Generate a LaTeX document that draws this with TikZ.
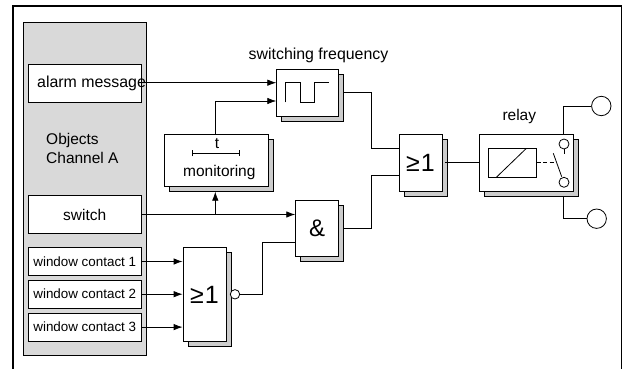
\documentclass[tikz,border=0pt]{standalone}
\usepackage{fontspec}
\setmainfont{Liberation Sans}
\usetikzlibrary{arrows.meta,shadows}

\begin{document}
\begin{tikzpicture}[x=1pt,y=-1pt]
\tikzstyle{panel}=[rectangle, draw, fill=black!15, line width=0.8pt, inner sep=0]
\tikzstyle{objbox}=[rectangle, draw, fill=white, line width=0.8pt, inner sep=0, minimum width=113.5]
\tikzstyle{gatebox}=[rectangle, draw, fill=white, line width=0.8pt, inner sep=0,
    copy shadow={shadow xshift=5pt, shadow yshift=-5pt, fill=black!20, draw=black}]
\tikzstyle{pin}=[circle, draw, fill=white, line width=0.8pt, inner sep=0]
\tikzstyle{wire}=[line width=0.8pt]
\tikzstyle{arrow}=[line width=0.8pt, -{Latex[length=9,width=6.5]}]
\useasboundingbox (0,0) rectangle (622,369);

\draw[line width=2pt] (12.5,369)--(12.5,6.5)--(622,6.5);
\draw[line width=0.8pt] (621.2,6.5)--(621.2,369);

\node[panel, minimum width=123.5, minimum height=333] (objects) at (84.75,189) {};
\node[objbox, minimum height=37.5] (alarm) at (84.75,83.25) {};
\node[objbox, minimum height=37.5] (switch) at (84.75,214.5) {\fontsize{15.5}{18}\selectfont switch};
\node[objbox, minimum height=28.4] (wc1) at (84.75,261.5) {\fontsize{13.4}{16}\selectfont window contact 1};
\node[objbox, minimum height=28.4] (wc2) at (84.75,294.2) {\fontsize{13.4}{16}\selectfont window contact 2};
\node[objbox, minimum height=28.4] (wc3) at (84.75,327.1) {\fontsize{13.4}{16}\selectfont window contact 3};
\node[anchor=west, inner sep=0] (alarmtext) at (37,83.25) {\fontsize{15.9}{18}\selectfont alarm message};
\node[anchor=west, inner sep=0, align=left, font=\fontsize{15.5}{19}\selectfont] (chan) at (46,148.5) {Objects\\Channel A};

\node[gatebox, minimum width=43, minimum height=94.4] (or2) at (204.5,294.5) {\fontsize{25}{28}\selectfont ≥\kern1pt 1};
\node[pin, minimum size=9.4] (bubble) at (235,294.3) {};
\node[gatebox, minimum width=43, minimum height=56.4] (and) at (317.2,228.5) {\fontsize{24}{28}\selectfont \&};
\node[gatebox, minimum width=104, minimum height=52] (mon) at (216.3,160.7) {};
\node[inner sep=0] (montime) at (217,144) {\fontsize{15.5}{18}\selectfont t};
\node[inner sep=0] (montext) at (219.3,172) {\fontsize{15.5}{18}\selectfont monitoring};
\draw[wire, |-|] (191.7,153.3)--(240,153.3);

\node[gatebox, minimum width=62, minimum height=47.3] (freq) at (307.7,92.7) {};
\node[inner sep=0] (freqtext) at (318.5,55) {\fontsize{15.9}{18}\selectfont switching frequency};
\draw[wire] (285.7,102.3)--(285.7,82.7)--(300,82.7)--(300,102.3)--(314.3,102.3)--(314.3,82.7)--(329.3,82.7);

\node[gatebox, minimum width=43, minimum height=56.4] (or1) at (420.5,162.9) {\fontsize{25}{28}\selectfont ≥\kern1pt 1};

\node[gatebox, minimum width=94.4, minimum height=56.4] (relay) at (526.5,162.9) {};
\node[inner sep=0] (relaytext) at (519.3,116) {\fontsize{15.5}{18}\selectfont relay};
\node[rectangle, draw, line width=0.8pt, inner sep=0, minimum width=48, minimum height=28.3] (coil) at (512.3,162.8) {};
\draw[wire] (coil.south west)++(8.4,0)--(526,148.7);
\node[pin, minimum size=10] (c1) at (564,144) {};
\node[pin, minimum size=10] (c2) at (564,182.3) {};
\coordinate (c1end) at (564,154.3);
\coordinate (swtop) at (553.3,153.3);
\coordinate (swend) at (561.7,176.7);
\draw[wire] (c1)--(c1end);
\draw[wire] (swtop)--(swend);
\draw[wire, dash pattern=on 4pt off 2.5pt] (coil.east)--(556,162.8);

\node[pin, minimum size=19.4] (out1) at (601.3,106) {};
\node[pin, minimum size=19.4] (out2) at (596.7,218.7) {};
\coordinate (top1) at (563,134.7);
\coordinate (bot2) at (563,196);

\coordinate (in1) at (freq.west |- 0,82.7);
\coordinate (in2) at (freq.west |- 0,101);
\coordinate (mid) at (215.3,214.5);
\draw[arrow] (alarm.east |- in1)--(in1);
\draw[arrow] (215.3,134.7)|-(in2);
\draw[arrow] (switch.east)--(switch.east -| and.west);
\draw[arrow] (mid)--(215.3,191.7);
\draw[arrow] (wc1.east)--(wc1.east -| or2.west);
\draw[arrow] (wc2.east)--(wc2.east -| or2.west);
\draw[arrow] (wc3.east)--(wc3.east -| or2.west);

\draw[wire] (bubble)--(262.7,294.3)--(262.7,242)--(295.7,242);
\draw[wire] (343.7,92)--(371,92)--(371,148.3)--(399,148.3);
\draw[wire] (343.7,228)--(371,228)--(371,175.7)--(399,175.7);
\draw[wire] (445.3,162.3)--(relay.west |- 0,162.3);
\draw[wire] (top1)--(563,106)--(out1);
\draw[wire] (bot2)--(563,218.7)--(out2);
\end{tikzpicture}
\end{document}
